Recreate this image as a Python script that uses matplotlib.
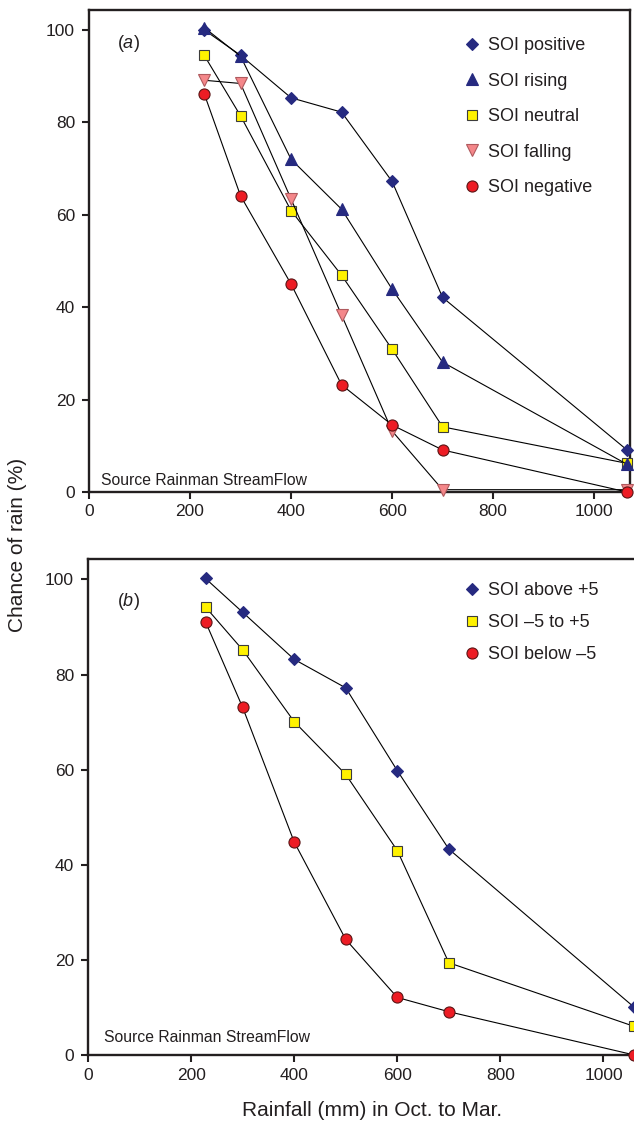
import matplotlib
matplotlib.use("Agg")
import matplotlib.pyplot as plt
from matplotlib.lines import Line2D

plt.rcParams['font.family'] = ['Liberation Sans', 'DejaVu Sans']
plt.rcParams['mathtext.fontset'] = 'custom'
plt.rcParams['mathtext.it'] = 'Liberation Sans:italic'
plt.rcParams['mathtext.rm'] = 'Liberation Sans'

# panel (a): SOI phases
rain_a = [228, 300, 400, 500, 600, 700, 1065]
soi_positive = [100.0, 94.5, 85.3, 82.2, 67.2, 42.1, 9.1]
soi_rising = [100.5, 94.3, 72.0, 61.2, 43.9, 28.1, 6.0]
soi_neutral = [94.5, 81.4, 60.9, 46.9, 30.9, 14.1, 6.2]
soi_falling = [89.1, 88.4, 63.4, 38.3, 13.2, 0.5, 0.5]
soi_negative = [86.2, 64.1, 45.0, 23.2, 14.5, 9.1, 0.0]
labels_a = ['SOI positive', 'SOI rising', 'SOI neutral', 'SOI falling', 'SOI negative']

# panel (b): SOI value bands
rain_b = [228, 300, 400, 500, 600, 700, 1060]
soi_above = [100.2, 93.1, 83.2, 77.2, 59.8, 43.3, 10.0]
soi_mid = [94.2, 85.2, 70.1, 59.0, 43.0, 19.4, 6.0]
soi_below = [91.1, 73.1, 44.8, 24.3, 12.1, 9.1, 0.0]
labels_b = ['SOI above +5', 'SOI \u20135 to +5', 'SOI below \u20135']

navy = '#262a80'
yellow = '#fff200'
pink = '#f4878a'
red = '#ed1c24'
edge = '#3c3c3c'
ink = '#231f20'

W, H = 634, 1129
fig = plt.figure(figsize=(W / 100, H / 100), dpi=100)


def px_axes(left, right, top, bottom):
    return fig.add_axes([left / W, 1 - bottom / H, (right - left) / W, (bottom - top) / H])


ax_a = px_axes(89, 630, 10, 492)
ax_b = px_axes(88, 655, 559, 1055)

styles_a = [
    (soi_positive, 'D', 6.5, navy, navy, 3.0),
    (soi_rising, '^', 8.5, navy, navy, 3.2),
    (soi_neutral, 's', 7.5, yellow, edge, 3.1),
    (soi_falling, 'v', 8.5, pink, '#b05a5e', 3.3),
    (soi_negative, 'o', 8, red, '#5a1515', 3.4),
]
styles_b = [
    (soi_above, 'D', 6.5, navy, navy, 3.0),
    (soi_mid, 's', 7.5, yellow, edge, 3.1),
    (soi_below, 'o', 8, red, '#5a1515', 3.2),
]


def draw(ax, x, styles, labels, xmax, legend_xy, spacing):
    handles = []
    for (y, m, ms, fc, ec, z), lab in zip(styles, labels):
        ax.plot(x, y, color='black', lw=0.8, marker=m, ms=ms, mfc=fc, mec=ec,
                mew=0.8, zorder=z, clip_on=False)
        handles.append(Line2D([], [], ls='none', marker=m, ms=ms, mfc=fc, mec=ec, mew=0.8))
    ax.set_xlim(0, xmax)
    ax.set_ylim(0, 104.3)
    ax.set_xticks([0, 200, 400, 600, 800, 1000])
    ax.set_yticks([0, 20, 40, 60, 80, 100])
    for s in ax.spines.values():
        s.set_linewidth(1.7)
        s.set_color(ink)
    ax.tick_params(direction='out', length=5, width=1.5, color=ink,
                   labelsize=12.5, labelcolor=ink, pad=4)
    ax.tick_params(axis='y', pad=5)
    ax.legend(handles, labels, loc='upper left',
              bbox_to_anchor=(legend_xy[0] / W, 1 - legend_xy[1] / H),
              bbox_transform=fig.transFigure, frameon=False, fontsize=13,
              handlelength=0.8, handletextpad=0.45, borderpad=0,
              borderaxespad=0, labelspacing=spacing, labelcolor=ink)


draw(ax_a, rain_a, styles_a, labels_a, 1071, (465, 37), 1.03)
draw(ax_b, rain_b, styles_b, labels_b, 1100, (465, 582), 0.84)

fig.text(117 / W, 1 - 44 / H, r'($\mathit{a}$)', fontsize=13, color=ink, va='center')
fig.text(117 / W, 1 - 601 / H, r'($\mathit{b}$)', fontsize=13, color=ink, va='center')
fig.text(101 / W, 1 - 481 / H, 'Source Rainman StreamFlow', fontsize=11.3, color=ink, va='center')
fig.text(104 / W, 1 - 1038 / H, 'Source Rainman StreamFlow', fontsize=11.3, color=ink, va='center')

fig.text(18 / W, 1 - 545 / H, 'Chance of rain (%)', rotation=90, fontsize=15,
         color=ink, ha='center', va='center')
fig.text(372 / W, 1 - 1110 / H, 'Rainfall (mm) in Oct. to Mar.', fontsize=15,
         color=ink, ha='center', va='center')

fig.savefig('out.png', dpi=100)
